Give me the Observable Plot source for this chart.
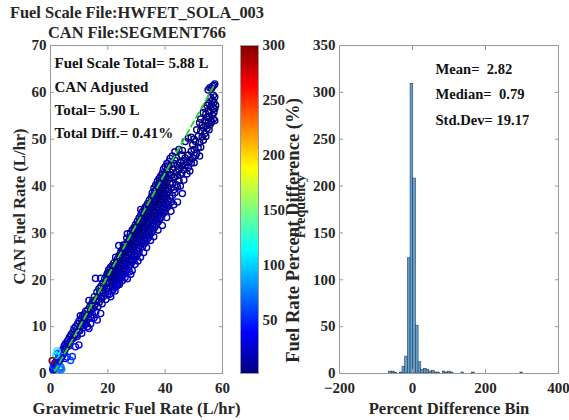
<!DOCTYPE html>
<html>
<head>
<meta charset="utf-8">
<script src="https://cdn.jsdelivr.net/npm/d3@7"></script>
<script src="https://cdn.jsdelivr.net/npm/@observablehq/plot@0.6"></script>
<style>
  body { margin: 0; background: #fff; }
  #chart { position: relative; width: 569px; height: 420px; overflow: hidden; background: #fff;
           font-family: "Liberation Serif", "Times New Roman", serif; font-weight: bold; color: #262626; }
  #chart svg { position: absolute; top: 0; }
  #title { position: absolute; left: 0; top: 3px; width: 274px; text-align: center; font-size: 16.4px; line-height: 20px; }
  #chart text { white-space: pre; }
</style>
</head>
<body>
<div id="chart">
  <div id="title">Fuel Scale File:HWFET_SOLA_003<br>CAN File:SEGMENT766</div>
</div>
<script>
// Fuel rate samples: [gravimetric L/hr, CAN L/hr]
const fuelRates = [
  [0.6,2.7],[0.8,0.9],[1.0,1.6],[1.1,0.8],[1.3,1.9],[1.4,1.2],[1.6,2.3],[1.7,1.0],[1.9,3.9],[2.0,1.6],
  [2.1,2.6],[2.3,4.8],[2.4,2.0],[2.6,4.3],[2.7,3.1],[2.9,2.4],[3.0,3.6],[3.1,1.0],[3.3,2.9],[3.4,0.8],
  [3.5,4.2],[3.6,1.4],[3.8,3.4],[3.9,0.9],[4.0,4.6],[4.2,3.9],[4.4,5.2],[4.6,4.4],[4.8,5.9],[5.0,5.0],
  [5.2,3.2],[5.3,6.4],[5.5,5.6],[5.8,3.5],[5.9,6.9],[6.1,6.2],[6.3,7.3],[6.5,5.9],[6.7,7.8],[7.0,2.8],
  [7.0,6.9],[7.2,8.3],[7.5,7.4],[7.6,3.6],[7.8,8.8],[8.0,7.6],[8.2,9.6],[8.5,8.4],[8.7,5.7],[8.8,10.0],
  [9.0,8.2],[9.2,9.4],[9.3,7.9],[9.5,10.6],[9.8,9.2],[9.9,6.1],
  [10.0,11.2],[10.2,9.1],[10.4,12.3],[10.5,10.1],[10.7,11.6],[10.9,8.6],[11.0,10.7],[11.2,12.2],[11.4,9.8],[11.5,11.3],
  [11.8,12.7],[12.0,10.4],[12.1,11.8],[12.3,13.3],[12.5,11.0],[12.7,12.4],[12.9,10.0],[13.0,13.6],[13.2,11.7],[13.4,9.6],
  [13.4,15.6],[13.5,12.8],[13.7,14.2],[14.0,10.6],[14.0,12.1],[14.2,13.6],[14.4,14.9],[14.6,12.6],[14.8,15.6],[15.0,13.9],
  [15.2,11.9],[15.3,16.4],[15.5,14.6],[15.7,20.3],[15.8,13.2],[16.0,15.8],[16.2,17.4],[16.3,11.4],[16.5,14.3],[16.7,16.6],
  [16.9,18.1],[17.0,15.2],[17.3,17.2],[17.5,12.8],[17.5,20.3],[17.6,18.6],[17.8,15.9],[18.0,14.9],[18.0,17.7],[18.3,19.3],
  [18.5,16.5],[18.7,18.4],[18.9,20.1],[19.1,17.2],[19.3,15.8],[19.4,19.2],[19.6,20.8],[19.8,18.0],[19.8,21.3],
  [20.0,17.0],[20.0,19.2],[20.0,21.5],[20.3,18.2],[20.3,20.4],[20.3,22.1],[20.6,16.9],[20.6,19.6],[20.6,21.2],
  [20.9,18.5],[20.9,20.7],[20.9,22.6],[21.0,16.4],[21.2,17.6],[21.2,19.9],[21.2,21.8],[21.5,18.9],[21.5,21.1],[21.5,23.0],
  [21.8,17.9],[21.8,20.3],[21.8,22.4],[22.1,19.3],[22.1,21.6],[22.1,23.6],[22.4,18.4],[22.4,20.8],[22.4,23.0],[22.5,17.6],
  [22.7,19.6],[22.7,22.1],[22.7,24.8],[23.0,18.7],[23.0,21.3],[23.0,23.5],[23.3,20.2],[23.3,22.6],[23.3,24.4],[23.5,18.9],
  [23.6,19.3],[23.6,21.8],[23.6,24.0],[23.8,27.3],[23.9,20.6],[23.9,23.1],[23.9,25.2],[24.0,19.0],[24.2,19.8],[24.2,22.4],
  [24.2,24.7],[24.5,21.2],[24.5,23.6],[24.5,25.9],[24.8,20.5],[24.8,22.9],[24.8,25.3],[25.0,19.8],[25.1,21.8],[25.1,24.2],
  [25.1,26.4],[25.4,21.0],[25.4,23.5],[25.4,25.8],[25.4,27.4],[25.7,22.4],[25.7,24.8],[25.7,26.9],[26.0,20.5],[26.0,21.6],
  [26.0,24.1],[26.0,26.3],[26.3,22.9],[26.3,25.3],[26.3,27.6],[26.6,22.1],[26.6,24.6],[26.6,26.8],[26.6,28.9],[26.8,20.2],
  [26.8,29.8],[27.0,23.4],[27.0,25.9],[27.0,28.1],[27.3,22.7],[27.3,25.2],[27.3,27.4],[27.5,21.7],[27.6,24.0],[27.6,26.5],
  [27.6,28.7],[27.9,23.2],[27.9,25.8],[27.9,28.0],[27.9,29.9],[28.0,21.2],[28.2,24.5],[28.2,27.1],[28.2,29.3],[28.5,22.0],
  [28.5,23.8],[28.5,26.4],[28.5,28.6],[28.5,30.6],[28.8,25.1],[28.8,27.7],[28.8,29.9],[29.1,24.3],[29.1,27.0],[29.1,29.2],
  [29.1,31.1],[29.4,25.6],[29.4,28.3],[29.4,30.5],[29.5,23.3],[29.7,24.9],[29.7,27.6],[29.7,29.8],[29.7,31.8],[30.0,26.2],
  [30.0,28.9],[30.0,31.2],[30.3,25.4],[30.3,28.2],[30.3,30.5],[30.3,32.5],[30.5,24.0],[30.6,26.8],[30.6,29.5],[30.6,31.8],
  [30.9,26.0],[30.9,28.8],[30.9,31.1],[30.9,33.2],[31.2,27.3],[31.2,30.1],[31.2,32.4],[31.4,24.8],[31.5,29.4],[31.5,31.7],
  [31.5,33.8],[31.5,35.0],[31.8,27.9],[31.8,30.7],[31.8,33.0],[32.1,27.1],[32.1,30.0],[32.1,32.3],[32.1,34.5],[32.4,28.5],
  [32.4,31.3],[32.4,33.6],[32.5,25.8],[32.7,27.7],[32.7,30.6],[32.7,32.9],[32.7,35.1],[33.0,29.0],[33.0,31.9],[33.0,34.2],
  [33.0,35.3],[33.3,28.3],[33.3,31.2],[33.3,33.5],[33.3,35.7],[33.5,26.9],[33.6,29.6],[33.6,32.5],[33.6,34.8],[33.9,28.8],
  [33.9,31.8],[33.9,34.1],[33.9,36.3],[34.2,30.2],[34.2,33.1],[34.2,35.4],[34.5,29.4],[34.5,32.4],[34.5,34.7],[34.5,37.0],
  [34.9,28.4],[34.9,30.8],[34.9,33.7],[34.9,36.1],[35.2,30.0],[35.2,33.0],[35.2,35.4],[35.2,37.6],[35.5,31.4],[35.5,34.3],
  [35.5,36.7],[35.5,38.5],[35.8,30.6],[35.8,33.6],[35.8,36.0],[35.8,38.0],[36.0,29.2],[36.1,32.0],[36.1,34.9],[36.1,37.3],
  [36.1,39.6],[36.4,31.2],[36.4,34.2],[36.4,36.6],[36.4,38.9],[36.7,32.6],[36.7,35.5],[36.7,37.9],[36.7,40.2],[37.0,31.8],
  [37.0,34.8],[37.0,37.2],[37.0,39.4],[37.3,33.2],[37.3,36.1],[37.3,38.5],[37.3,41.0],[37.5,30.6],[37.6,32.4],[37.6,35.4],
  [37.6,37.8],[37.6,40.1],[37.9,33.8],[37.9,36.7],[37.9,39.1],[37.9,41.6],[38.2,33.0],[38.2,36.0],[38.2,38.4],[38.2,40.8],
  [38.5,34.4],[38.5,37.3],[38.5,39.7],[38.5,42.2],[38.8,33.6],[38.8,36.6],[38.8,39.0],[38.8,41.4],[39.0,31.6],[39.1,35.0],
  [39.1,37.9],[39.1,40.3],[39.1,42.8],[39.4,34.2],[39.4,37.2],[39.4,39.6],[39.4,42.0],[39.4,43.6],[39.7,35.6],[39.7,38.5],
  [39.7,41.2],[40.0,34.8],[40.0,37.8],[40.0,40.2],[40.0,42.6],[40.0,44.1],[40.3,36.2],[40.3,39.1],[40.3,41.8],[40.5,33.3],
  [40.6,35.4],[40.6,38.4],[40.6,40.8],[40.6,43.4],[40.6,44.8],[41.0,36.8],[41.0,39.7],[41.0,42.4],[41.3,36.0],[41.3,38.9],
  [41.3,41.5],[41.3,44.3],[41.3,45.2],[41.7,37.4],[41.7,40.5],[41.7,43.0],[41.7,45.9],[42.0,34.6],[42.1,36.6],[42.1,39.6],
  [42.1,42.3],[42.1,44.6],[42.5,38.0],[42.5,40.5],[42.5,43.6],[42.5,46.4],[43.0,36.0],[43.0,39.2],[43.0,41.8],[43.0,44.8],
  [43.4,38.6],[43.4,42.0],[43.4,45.5],[43.4,47.3],[43.9,40.3],[43.9,43.0],[43.9,46.0],[44.3,36.6],[44.3,39.8],[44.3,42.2],
  [44.3,44.5],[44.8,41.2],[44.8,43.6],[44.8,47.8],[45.3,40.0],[45.3,42.4],[45.3,45.0],[45.8,42.8],[45.8,44.3],[45.8,46.6],
  [46.0,38.4],[46.0,47.6],[46.5,41.3],[46.5,43.5],[46.5,45.2],[47.0,44.4],[47.0,46.0],[47.0,49.5],[47.6,42.6],[47.6,45.1],
  [48.1,44.0],[48.1,46.6],[48.1,50.2],[48.6,43.2],[48.6,45.4],[49.1,44.9],[49.1,47.4],[49.1,50.4],[49.6,46.0],[49.6,48.8],
  [50.1,45.0],[50.1,47.8],[50.1,50.0],[50.6,46.5],[50.6,49.5],[51.0,47.0],[51.0,52.0],[51.5,48.1],[51.5,50.6],[52.0,46.4],
  [52.0,49.3],[52.0,53.5],[52.4,48.3],[52.4,51.8],[52.4,54.3],[52.9,50.5],[52.9,53.0],[53.3,49.8],[53.3,52.5],[53.3,55.7],
  [53.8,51.2],[53.8,53.9],[53.8,56.6],[54.2,50.6],[54.2,52.8],[54.2,55.4],[54.6,52.3],[54.6,54.7],[54.6,57.2],[55.0,53.5],
  [55.0,56.0],[55.0,60.5],[55.3,52.0],[55.3,54.8],[55.3,57.6],[55.6,53.1],[55.6,55.8],[55.6,61.0],[55.9,54.0],[55.9,56.8],
  [55.9,58.9],[56.2,53.6],[56.2,57.4],[56.2,60.9],[56.5,55.1],[56.5,58.3],[56.5,61.3],[56.8,54.3],[56.8,56.6],[56.8,59.4],
  [57.0,55.7],[57.0,57.9],[57.0,61.5],[57.3,54.0],[57.3,56.5],[57.3,59.0],[57.3,61.8],[57.6,57.2]
];

// Dashed reference line end points [gravimetric, CAN]
const fitLine = [[1.5, 0.5], [57.5, 62.0]];

const scatterNotes = ["Fuel Scale Total= 5.88 L", "CAN Adjusted", "Total= 5.90 L", "Total Diff.= 0.41%"];

// Histogram of percent difference: 50 equal bins over histRange
const histRange = [-64, 303];
const histCounts = [
  2, 2, 1, 0, 1, 7, 18, 123, 309, 208,
  51, 12, 4, 5, 4, 2, 3, 1, 1, 0,
  2, 1, 2, 1, 0, 0, 0, 1, 0, 0,
  0, 1, 0, 0, 0, 0, 0, 0, 0, 0,
  0, 0, 0, 0, 0, 0, 0, 0, 0, 1
];
const histNotes = ["Mean=  2.82", "Median=  0.79", "Std.Dev= 19.17"];

// Axis ticks
const scatterXTicks = [0, 20, 40, 60];
const scatterYTicks = [0, 10, 20, 30, 40, 50, 60, 70];
const colorDomain = [2, 300];
const colorTicks = [50, 100, 150, 200, 250, 300];
const histXTicks = [-200, 0, 200, 400];
const histYTicks = [0, 50, 100, 150, 200, 250, 300, 350];

// Jet colour map
function jet(t) {
  const c = v => Math.round(255 * Math.max(0, Math.min(1, v)));
  return `rgb(${c(1.5 - Math.abs(4 * t - 3))},${c(1.5 - Math.abs(4 * t - 2))},${c(1.5 - Math.abs(4 * t - 1))})`;
}
const colorScale = {type: "linear", domain: colorDomain, interpolate: jet, clamp: true};
const pctDiff = d => Math.abs(d[1] - d[0]) / d[0] * 100;

const FONT = '"Liberation Serif", "Times New Roman", serif';
const svgStyle = {background: "none", overflow: "visible", fontFamily: FONT, fontWeight: "bold", fontSize: "15px", color: "#262626"};
const AX = "#9a9a9a";
const LABEL = {fontSize: 16.6, fill: "#262626", lineAnchor: "middle", textAnchor: "middle"};

// Box axes with inward ticks on every side
function boxAxes(xt, yt) {
  return [
    Plot.frame({stroke: AX}),
    Plot.axisX({anchor: "bottom", ticks: xt, tickSize: -4, tickPadding: 13, stroke: AX, fill: "#262626", label: null}),
    Plot.axisX({anchor: "top", ticks: xt, tickSize: -4, tickFormat: () => "", stroke: AX, label: null}),
    Plot.axisY({anchor: "left", ticks: yt, tickSize: -4, tickPadding: 8, stroke: AX, fill: "#262626", label: null}),
    Plot.axisY({anchor: "right", ticks: yt, tickSize: -4, tickFormat: () => "", stroke: AX, label: null})
  ];
}

const chart = document.getElementById("chart");

// Scatter: gravimetric vs CAN fuel rate
const scatter = Plot.plot({
  width: 230, height: 420, marginLeft: 50, marginRight: 8, marginTop: 45, marginBottom: 47,
  style: svgStyle,
  x: {domain: [0, 60]},
  y: {domain: [0, 70]},
  color: colorScale,
  marks: [
    ...boxAxes(scatterXTicks, scatterYTicks),
    Plot.dot(fuelRates, {x: d => d[0], y: d => d[1], r: 3.1, stroke: pctDiff, strokeWidth: 1.35, sort: pctDiff}),
    Plot.line(fitLine, {x: d => d[0], y: d => d[1], stroke: "#22dd22", strokeWidth: 1.8, strokeDasharray: "6,4"}),
    Plot.text([scatterNotes.join("\n")], {text: d => d, frameAnchor: "top-left", textAnchor: "start", lineAnchor: "top",
      dx: 4, dy: 6, lineHeight: 1.56, fontSize: 15, fill: "#111"}),
    Plot.text(["Gravimetric Fuel Rate (L/hr)"], {text: d => d, frameAnchor: "bottom", dy: 35, ...LABEL}),
    Plot.text(["CAN Fuel Rate (L/hr)"], {text: d => d, frameAnchor: "left", rotate: -90, dx: -31, dy: -3, ...LABEL})
  ]
});
scatter.style.left = "0px";
chart.appendChild(scatter);

// Colour bar for percent difference
const rampStops = d3.range(colorDomain[0], colorDomain[1], 0.5);
const colorbar = Plot.plot({
  width: 85, height: 420, marginLeft: 15, marginRight: 52, marginTop: 45, marginBottom: 47,
  style: svgStyle,
  x: {domain: [0, 1], axis: null},
  y: {domain: colorDomain, axis: null},
  color: colorScale,
  marks: [
    Plot.rect(rampStops, {x1: 0, x2: 1, y1: d => d, y2: d => Math.min(d + 0.7, colorDomain[1]), fill: d => d + 0.25, shapeRendering: "crispEdges"}),
    Plot.frame({stroke: AX}),
    Plot.axisY({anchor: "right", ticks: colorTicks, tickSize: 0, tickPadding: 4, label: null, fill: "#262626"}),
    Plot.text(["Fuel Rate Percent Difference (%)"], {text: d => d, frameAnchor: "right", rotate: -90, dx: 35, dy: 21,
      ...LABEL, fontSize: 18.6})
  ]
});
colorbar.style.left = "225px";
chart.appendChild(colorbar);

// Histogram of percent difference
const binWidth = (histRange[1] - histRange[0]) / histCounts.length;
const bins = histCounts
  .map((n, i) => ({x1: histRange[0] + i * binWidth, x2: histRange[0] + (i + 1) * binWidth, n}))
  .filter(b => b.n > 0);
const hist = Plot.plot({
  width: 289, height: 420, marginLeft: 59, marginRight: 11, marginTop: 45, marginBottom: 47,
  style: svgStyle,
  x: {domain: [-200, 400]},
  y: {domain: [0, 350]},
  marks: [
    Plot.rectY(bins, {x1: "x1", x2: "x2", y: "n", fill: "#5fa2d6", stroke: "#2a3a48", strokeWidth: 0.6}),
    ...boxAxes(histXTicks, histYTicks),
    Plot.text([histNotes.join("\n")], {text: d => d, frameAnchor: "top-left", textAnchor: "start", lineAnchor: "top",
      dx: 96, dy: 10, lineHeight: 1.75, fontSize: 14.6, fill: "#111"}),
    Plot.text(["Percent Difference Bin"], {text: d => d, frameAnchor: "bottom", dy: 35, ...LABEL}),
    Plot.text(["Frequency"], {text: d => d, frameAnchor: "left", rotate: -90, dx: -39, dy: -3, ...LABEL, fontSize: 14})
  ]
});
hist.style.left = "280px";
chart.appendChild(hist);
</script>
</body>
</html>
